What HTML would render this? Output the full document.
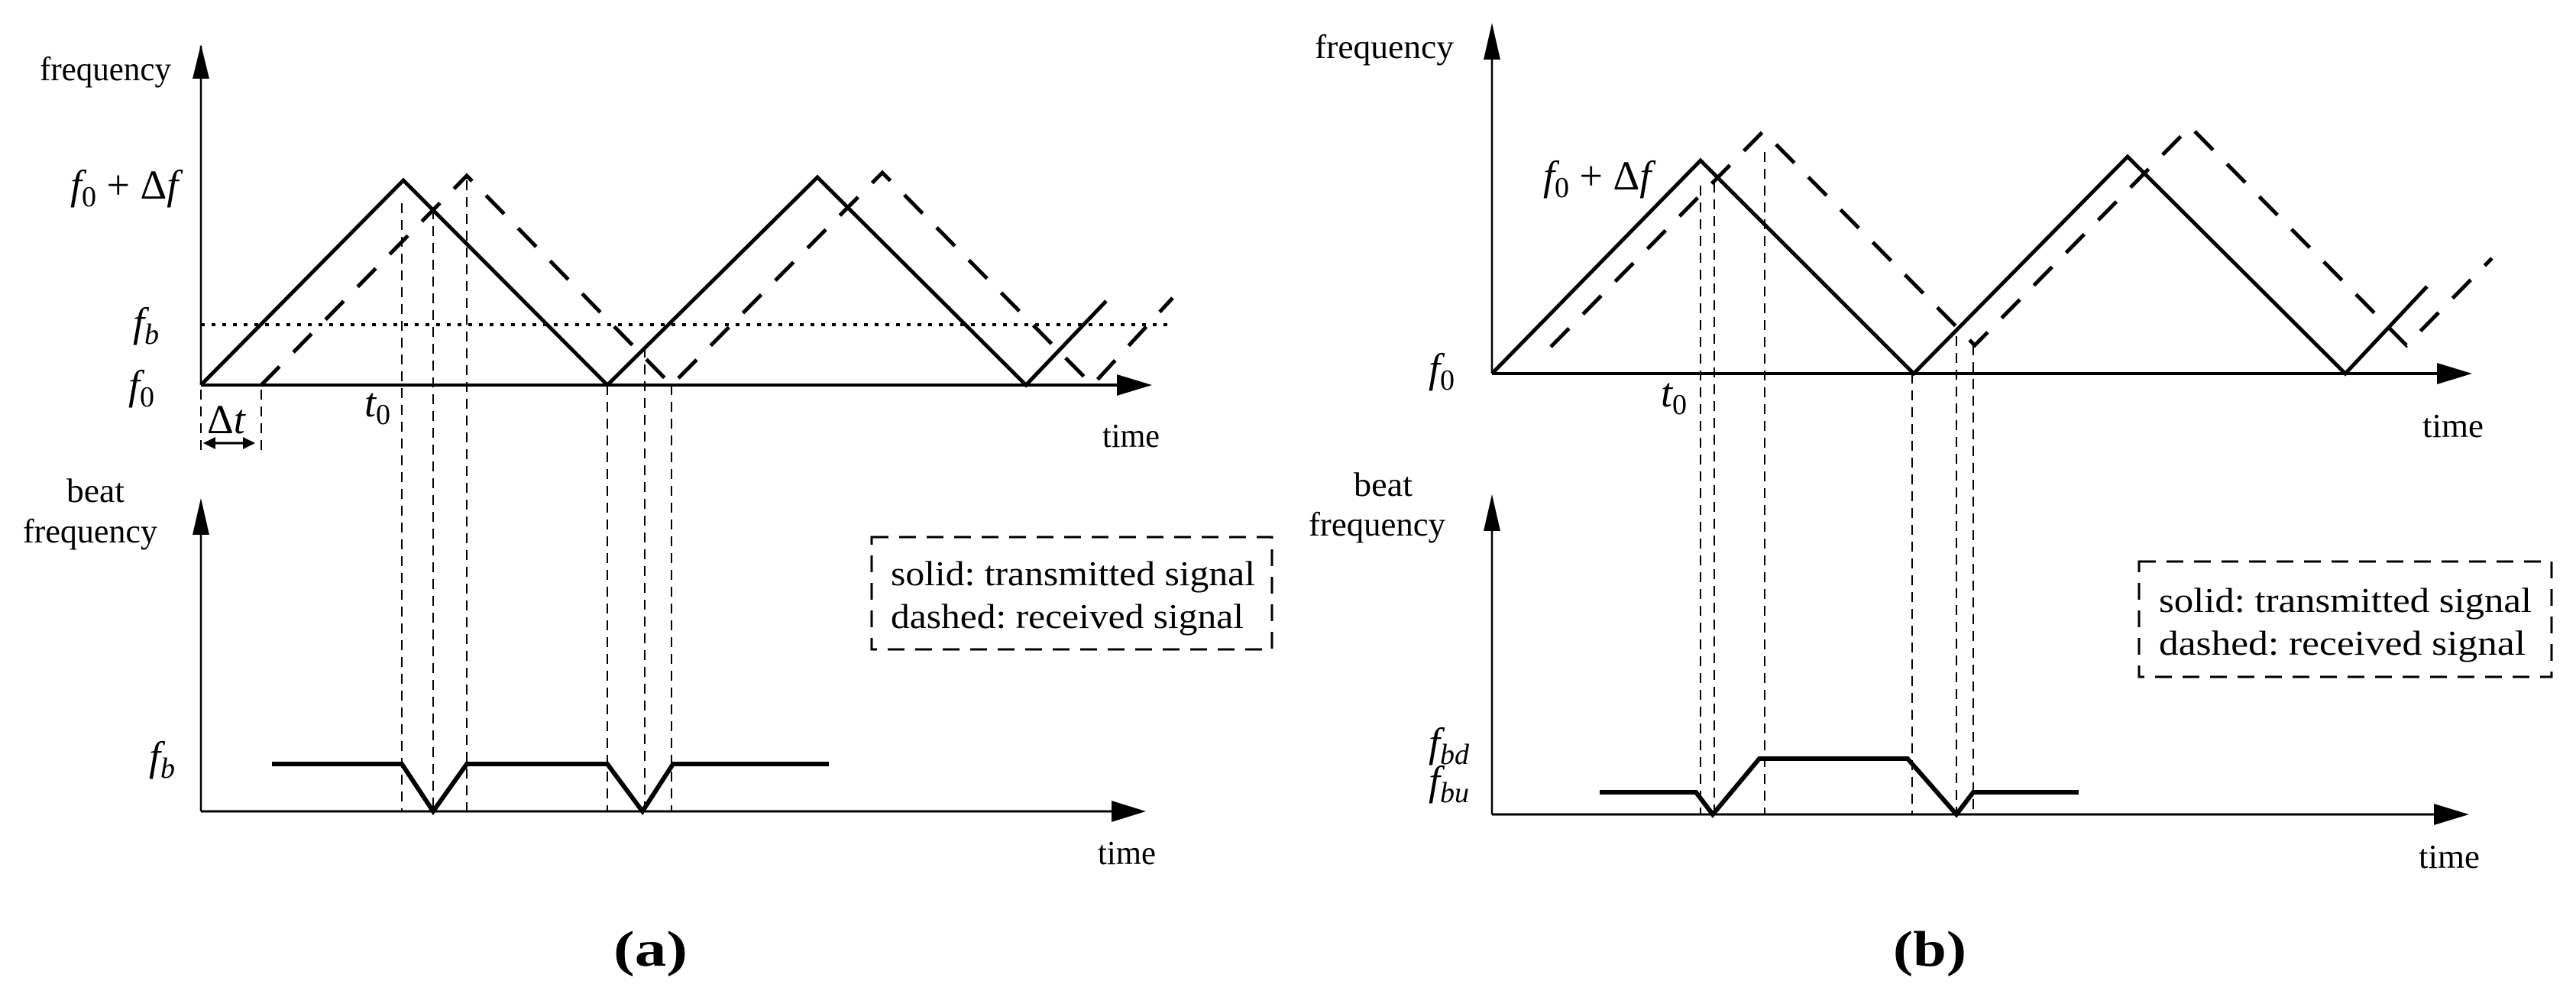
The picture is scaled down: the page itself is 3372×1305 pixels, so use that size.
<!DOCTYPE html>
<html><head><style>html,body{margin:0;padding:0;background:#fff}svg{display:block}
text{font-family:"Liberation Serif",serif;fill:#000}</style></head><body>
<svg width="3372" height="1305" viewBox="0 0 3372 1305" xmlns="http://www.w3.org/2000/svg">
<g fill="none" stroke="#000">
<!-- ===== Panel A ===== -->
<path d="M263,504 V60" stroke-width="2.5"/>
<path d="M252,103 L263,58 L274,103 z" fill="#000" stroke="none"/>
<path d="M263,504 H1470" stroke-width="4"/>
<path d="M1462,490 L1508,504 L1462,518 z" fill="#000" stroke="none"/>
<path d="M263,425 H1535" stroke-width="4" stroke-dasharray="5,9"/>
<path d="M263,504 L528,236 L795,504 L1070,232 L1343,504 L1448,394" stroke-width="5"/>
<path d="M342,504 L611,230 L879,504 L1155,226 L1430,504 L1535,390" stroke-width="5" stroke-dasharray="34,26"/>
<g stroke-width="2" stroke-dasharray="13,9">
<path d="M526,266 V1062"/><path d="M567,274 V1062"/><path d="M611,236 V1062"/>
<path d="M795,504 V1062"/><path d="M844,455 V1062"/><path d="M879,504 V1062"/>
<path d="M263,510 V597"/><path d="M342,510 V597"/>
</g>
<path d="M270,580 H330" stroke-width="3"/>
<path d="M266,580 L282,572 L282,588 z M334,580 L318,572 L318,588 z" fill="#000" stroke="none"/>
<path d="M263,1062 V660" stroke-width="2.5"/>
<path d="M252,700 L263,652 L274,700 z" fill="#000" stroke="none"/>
<path d="M263,1062 H1460" stroke-width="3"/>
<path d="M1455,1048 L1500,1062 L1455,1076 z" fill="#000" stroke="none"/>
<path d="M356,1000 H526 L567,1062 L611,1000 H795 L841,1062 L881,1000 H1085" stroke-width="6"/>
<rect x="1141" y="703" width="524" height="147" stroke-width="3" stroke-dasharray="22,14"/>

<!-- ===== Panel B ===== -->
<path d="M1953,489 V35" stroke-width="2.5"/>
<path d="M1942,78 L1953,30 L1964,78 z" fill="#000" stroke="none"/>
<path d="M1953,489 H3195" stroke-width="4"/>
<path d="M3190,475 L3236,489 L3190,503 z" fill="#000" stroke="none"/>
<path d="M1953,489 L2226,210 L2505,489 L2785,205 L3070,489 L3177,375" stroke-width="5"/>
<path d="M2030,454 L2308,172 L2585,452 L2867,166 L3150,452 L3262,338" stroke-width="5" stroke-dasharray="34,26"/>
<g stroke-width="2" stroke-dasharray="13,9">
<path d="M2226,243 V1066"/><path d="M2244,239 V1066"/><path d="M2310,199 V1066"/>
<path d="M2503,489 V1066"/><path d="M2561,440 V1066"/><path d="M2583,452 V1066"/>
</g>
<path d="M1953,1066 V655" stroke-width="2.5"/>
<path d="M1942,695 L1953,647 L1964,695 z" fill="#000" stroke="none"/>
<path d="M1953,1066 H3190" stroke-width="3"/>
<path d="M3186,1052 L3232,1066 L3186,1080 z" fill="#000" stroke="none"/>
<path d="M2094,1037 H2220 L2242,1066 L2303,993 H2497 L2561,1066 L2583,1037 H2721" stroke-width="6"/>
<rect x="2800" y="735" width="540" height="151" stroke-width="3" stroke-dasharray="22,14"/>
</g>

<!-- ===== Text Panel A ===== -->
<g font-size="44">
<text x="52" y="105" textLength="172" lengthAdjust="spacingAndGlyphs">frequency</text>
<text x="87" y="657" textLength="76" lengthAdjust="spacingAndGlyphs">beat</text>
<text x="30" y="710" textLength="176" lengthAdjust="spacingAndGlyphs">frequency</text>
<text x="1443" y="585" textLength="75" lengthAdjust="spacingAndGlyphs">time</text>
<text x="1437" y="1131" textLength="76" lengthAdjust="spacingAndGlyphs">time</text>
</g>
<g font-size="54" font-style="italic">
<text x="92" y="260">f<tspan font-size="38" font-style="normal" dy="10">0</tspan><tspan font-style="normal" dy="-10"> + Δ</tspan>f</text>
<text x="174" y="440">f<tspan font-size="38" dy="10">b</tspan></text>
<text x="168" y="522">f<tspan font-size="38" font-style="normal" dy="10">0</tspan></text>
<text x="477" y="545">t<tspan font-size="38" font-style="normal" dy="10">0</tspan></text>
<text x="271" y="567"><tspan font-style="normal">Δ</tspan>t</text>
<text x="195" y="1008">f<tspan font-size="38" dy="10">b</tspan></text>
</g>
<g font-size="46">
<text x="1166" y="766" textLength="477" lengthAdjust="spacingAndGlyphs">solid: transmitted signal</text>
<text x="1166" y="822" textLength="462" lengthAdjust="spacingAndGlyphs">dashed: received signal</text>
</g>
<text x="803" y="1264" font-size="66" font-weight="bold" textLength="97" lengthAdjust="spacingAndGlyphs">(a)</text>

<!-- ===== Text Panel B ===== -->
<g font-size="44">
<text x="1721" y="76" textLength="182" lengthAdjust="spacingAndGlyphs">frequency</text>
<text x="1772" y="649" textLength="77" lengthAdjust="spacingAndGlyphs">beat</text>
<text x="1713" y="701" textLength="179" lengthAdjust="spacingAndGlyphs">frequency</text>
<text x="3171" y="572" textLength="80" lengthAdjust="spacingAndGlyphs">time</text>
<text x="3166" y="1136" textLength="80" lengthAdjust="spacingAndGlyphs">time</text>
</g>
<g font-size="54" font-style="italic">
<text x="2020" y="248">f<tspan font-size="38" font-style="normal" dy="10">0</tspan><tspan font-style="normal" dy="-10"> + Δ</tspan>f</text>
<text x="1870" y="500">f<tspan font-size="38" font-style="normal" dy="10">0</tspan></text>
<text x="2174" y="532">t<tspan font-size="38" font-style="normal" dy="10">0</tspan></text>
<text x="1870" y="990">f<tspan font-size="38" dy="10">bd</tspan></text>
<text x="1870" y="1040">f<tspan font-size="38" dy="10">bu</tspan></text>
</g>
<g font-size="46">
<text x="2826" y="801" textLength="488" lengthAdjust="spacingAndGlyphs">solid: transmitted signal</text>
<text x="2826" y="857" textLength="480" lengthAdjust="spacingAndGlyphs">dashed: received signal</text>
</g>
<text x="2478" y="1264" font-size="66" font-weight="bold" textLength="96" lengthAdjust="spacingAndGlyphs">(b)</text>
</svg>
</body></html>
